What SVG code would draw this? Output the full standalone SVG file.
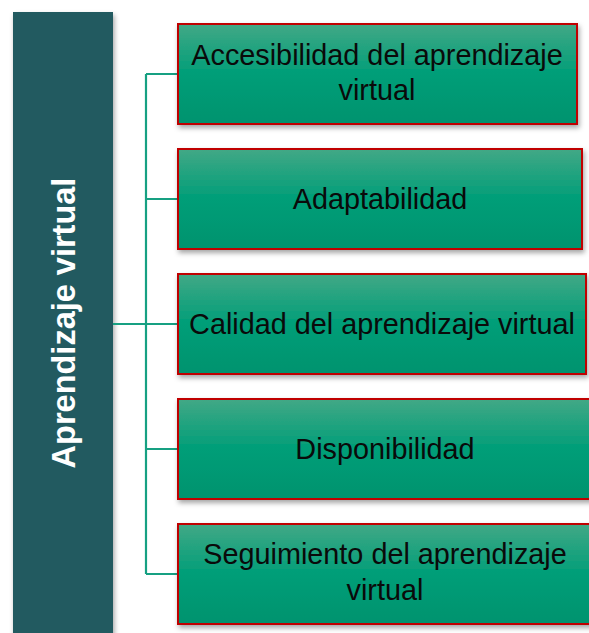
<svg xmlns="http://www.w3.org/2000/svg" width="589" height="633" viewBox="0 0 589 633">
<style>
.box{fill:url(#g);stroke:#c00000;stroke-width:2;filter:url(#sh)}
.t{font-family:"Liberation Sans",Arial,sans-serif;font-size:28.8px;fill:#0a0a0a;text-anchor:middle}
.c{stroke:#16a082;stroke-width:2.2;fill:none}
</style>
<defs>
<linearGradient id="g" x1="0" y1="0" x2="0" y2="1">
<stop offset="0" stop-color="#42a886"/>
<stop offset="0.5" stop-color="#009e78"/>
<stop offset="1" stop-color="#00936e"/>
</linearGradient>
<filter id="sh" x="-10%" y="-20%" width="130%" height="150%">
<feDropShadow dx="1.5" dy="3" stdDeviation="2.5" flood-color="#000" flood-opacity="0.35"/>
</filter>
</defs>
<rect width="589" height="633" fill="#fff"/>
<g id="main">
<rect x="13" y="12" width="100" height="630" fill="#225a61" filter="url(#sh)"/>
<text transform="translate(75,323) rotate(-90)" font-family="'Liberation Sans',Arial,sans-serif" font-weight="bold" font-size="32.5" fill="#fff" text-anchor="middle">Aprendizaje virtual</text>
</g>
<g id="connectors">
<path class="c" d="M113,324H146M146,74V574M146,74H178M146,199H178M146,324H178M146,449H178M146,574H178"/>
</g>
<g id="n1">
<rect class="box" x="178" y="24" width="399" height="100"/>
<text class="t" x="377" y="65">Accesibilidad del aprendizaje</text>
<text class="t" x="377" y="100">virtual</text>
</g>
<g id="n2">
<rect class="box" x="178" y="149" width="404" height="100"/>
<text class="t" x="380" y="209">Adaptabilidad</text>
</g>
<g id="n3">
<rect class="box" x="178" y="274" width="408" height="100"/>
<text class="t" x="382" y="334">Calidad del aprendizaje virtual</text>
</g>
<g id="n4">
<rect class="box" x="178" y="399" width="414" height="100"/>
<text class="t" x="385" y="459">Disponibilidad</text>
</g>
<g id="n5">
<rect class="box" x="178" y="524" width="414" height="100"/>
<text class="t" x="385" y="564">Seguimiento del aprendizaje</text>
<text class="t" x="385" y="600">virtual</text>
</g>
</svg>
